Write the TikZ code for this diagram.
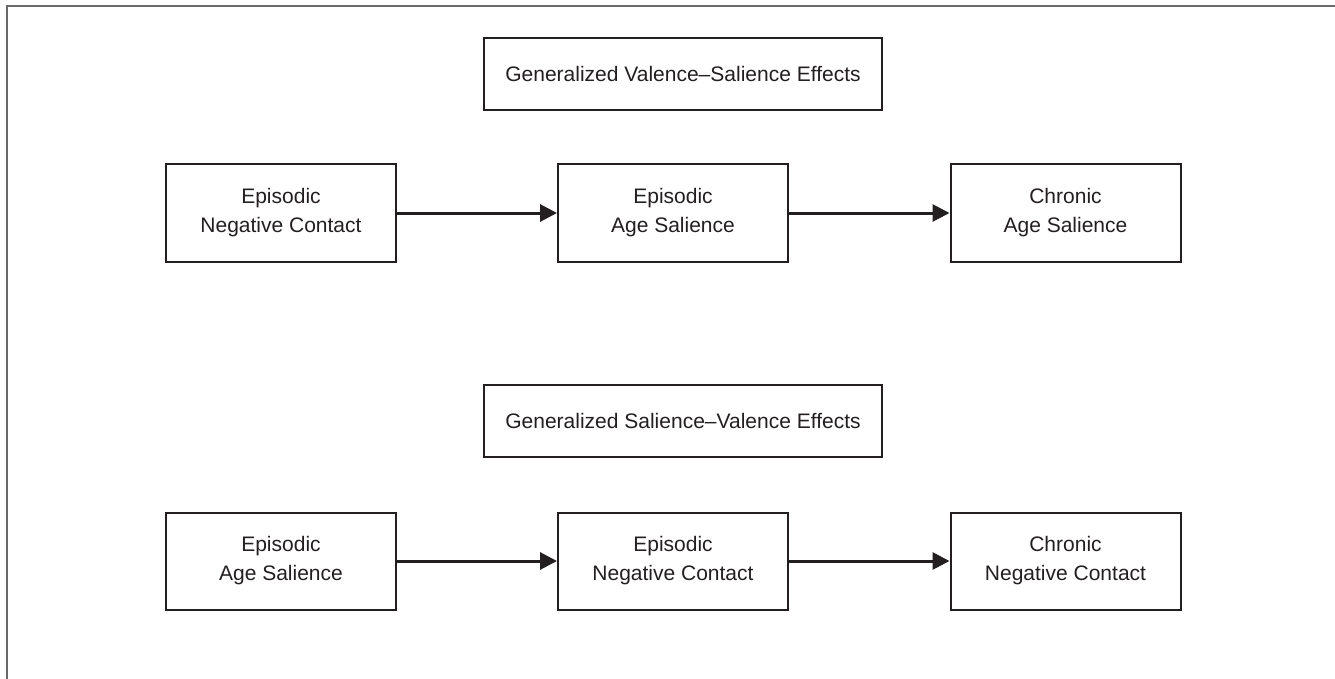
\documentclass[tikz,border=0pt]{standalone}
\usepackage{fontspec}
\setmainfont{Liberation Sans}
\usetikzlibrary{arrows.meta}
\definecolor{ink}{HTML}{231F20}
\definecolor{framegray}{HTML}{6A6A6A}
\tikzset{
    box/.style={draw=ink, line width=2pt, text=ink, align=center,
        minimum width=230pt, minimum height=97pt, inner sep=0pt,
        font=\fontsize{21}{29}\selectfont},
    titlebox/.style={box, minimum width=398pt, minimum height=72pt},
    link/.style={draw=ink, line width=3pt, -{Triangle[length=17pt,width=17pt]}}
}
\begin{document}
\begin{tikzpicture}[x=1pt, y=-1pt]
\useasboundingbox (0,0) rectangle (1335,679);

\draw [framegray, line width=2pt] (7,679) -- (7,6) -- (1335,6);

\path (683,74) node[titlebox] (vsTitle) {Generalized Valence--Salience Effects};
\path (281,213) node[box] (vsNeg) {Episodic\\Negative Contact};
\path (673,213) node[box] (vsAge) {Episodic\\Age Salience};
\path (1065.5,213) node[box] (vsChron) {Chronic\\Age Salience};

\path (683,421) node[titlebox] (svTitle) {Generalized Salience--Valence Effects};
\path (281,561) node[box] (svAge) {Episodic\\Age Salience};
\path (673,561) node[box] (svNeg) {Episodic\\Negative Contact};
\path (1065.5,561) node[box] (svChron) {Chronic\\Negative Contact};

\draw [link] (vsNeg) -- (vsAge);
\draw [link] (vsAge) -- (vsChron);
\draw [link] (svAge) -- (svNeg);
\draw [link] (svNeg) -- (svChron);

\end{tikzpicture}
\end{document}
